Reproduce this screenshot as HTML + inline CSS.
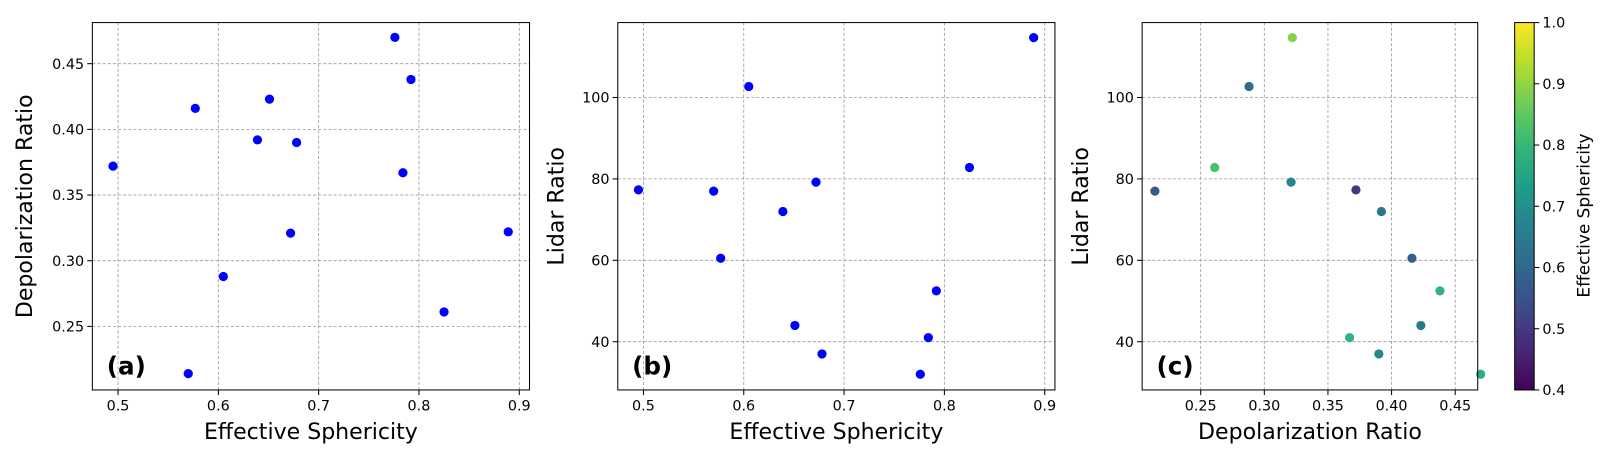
<!DOCTYPE html>
<html><head><meta charset="utf-8"><style>
body{margin:0;background:#fff;}
svg{display:block;font-family:"DejaVu Sans","Liberation Sans",sans-serif;}
</style></head><body>
<svg id="fig" width="1609" height="460"></svg>
<script>
const sphericity=[0.495,0.570,0.577,0.605,0.639,0.651,0.672,0.678,0.776,0.784,0.792,0.825,0.889];
const depolarization=[0.372,0.214,0.416,0.288,0.392,0.423,0.321,0.390,0.470,0.367,0.438,0.261,0.322];
const lidarRatio=[77.3,77.0,60.5,102.7,72.0,44.0,79.2,37.0,32.0,41.0,52.5,82.8,114.7];
const sphTicks=[0.5,0.6,0.7,0.8,0.9];
const depTicksA=[0.25,0.30,0.35,0.40,0.45];
const lidarTicks=[40,60,80,100];
const depTicksC=[0.25,0.30,0.35,0.40,0.45];
const cbTicks=[0.4,0.5,0.6,0.7,0.8,0.9,1.0];

const NS="http://www.w3.org/2000/svg";
const svgRoot=document.getElementById('fig');
const svg=document.createElementNS(NS,'g');
svg.setAttribute('transform','scale(1.0262)');
svgRoot.appendChild(svg);
function el(tag,attrs,parent){const e=document.createElementNS(NS,tag);for(const k in attrs)e.setAttribute(k,attrs[k]);(parent||svg).appendChild(e);return e;}
function lin(d0,d1,r0,r1){return v=>r0+(v-d0)*(r1-r0)/(d1-d0);}
const vir=[[68,1,84],[72,40,120],[62,74,137],[49,104,142],[38,130,142],[31,158,137],[53,183,121],[109,205,89],[180,222,44],[253,231,37]];
function viridis(t){t=Math.max(0,Math.min(1,t));const p=t*(vir.length-1),i=Math.min(vir.length-2,Math.floor(p)),f=p-i;const c=vir[i].map((v,k)=>Math.round(v+(vir[i+1][k]-v)*f));return `rgb(${c[0]},${c[1]},${c[2]})`;}

function panel(o){
  const g=el('g',{});
  
  
  const sx=lin(o.xd[0],o.xd[1],o.L,o.R), sy=lin(o.yd[0],o.yd[1],o.B,o.T);
  o.xt.forEach(t=>{const x=sx(t);
    const gl=el('line',{x1:x,x2:x,y1:o.T,y2:o.B,stroke:'#999','stroke-width':0.8,'stroke-dasharray':'3,2'},g);
    
    el('line',{x1:x,x2:x,y1:o.B,y2:o.B+5,stroke:'#000'},g);
    const tx=el('text',{x:x,y:o.B+20,'text-anchor':'middle','font-size':14},g);tx.textContent=o.xf(t);
    });
  o.yt.forEach(t=>{const y=sy(t);
    const gl=el('line',{x1:o.L,x2:o.R,y1:y,y2:y,stroke:'#999','stroke-width':0.8,'stroke-dasharray':'3,2'},g);
    
    el('line',{x1:o.L-5,x2:o.L,y1:y,y2:y,stroke:'#000'},g);
    const tx=el('text',{x:o.L-8,y:y+5,'text-anchor':'end','font-size':14},g);tx.textContent=o.yf(t);
    });
  o.xs.forEach((v,i)=>{const c=el('circle',{cx:sx(v),cy:sy(o.ys[i]),r:4.5,fill:o.col?o.col(i):'#0000ff'},g);
    });
  const fr=el('rect',{x:o.L,y:o.T,width:o.R-o.L,height:o.B-o.T,fill:'none',stroke:'#000','stroke-width':1},g);
  
  const xl=el('text',{x:(o.L+o.R)/2,y:428,'text-anchor':'middle','font-size':21.5},g);xl.textContent=o.xl;
  
  const yx=o.L-o.yo;
  const yl=el('text',{x:yx,y:(o.T+o.B)/2,'text-anchor':'middle','font-size':21.5,transform:`rotate(-90 ${yx} ${(o.T+o.B)/2})`},g);yl.textContent=o.yl;
  
  const pl=el('text',{x:o.L+14,y:365,'font-size':24,'font-weight':'bold'},g);pl.textContent=o.tag;
  
}
const f2=t=>t.toFixed(2), f1=t=>String(t), fi=t=>String(t);
panel({name:'panel-a',L:90,R:516,T:22,B:380,xd:[0.4744,0.9102],yd:[0.2016,0.4813],xt:sphTicks,yt:depTicksA,xf:f1,yf:f2,xs:sphericity,ys:depolarization,xl:'Effective Sphericity',yl:'Depolarization Ratio',yo:59,tag:'(a)'});
panel({name:'panel-b',L:602,R:1028,T:22,B:380,xd:[0.4744,0.9102],yd:[28.15,118.4],xt:sphTicks,yt:lidarTicks,xf:f1,yf:fi,xs:sphericity,ys:lidarRatio,xl:'Effective Sphericity',yl:'Lidar Ratio',yo:53,tag:'(b)'});
panel({name:'panel-c',L:1113,R:1440,T:22,B:380,xd:[0.204,0.4677],yd:[28.15,118.4],xt:depTicksC,yt:lidarTicks,xf:f2,yf:fi,xs:depolarization,ys:lidarRatio,col:i=>viridis((sphericity[i]-0.4)/0.6),xl:'Depolarization Ratio',yl:'Lidar Ratio',yo:53,tag:'(c)'});

// colorbar
const cb=el('g',{});


const defs=el('defs',{},cb);
const lg=el('linearGradient',{id:'vg',x1:0,y1:1,x2:0,y2:0},defs);
for(let i=0;i<=20;i++)el('stop',{offset:i/20,'stop-color':viridis(i/20)},lg);
el('rect',{x:1476,y:22,width:19,height:358,fill:'url(#vg)',stroke:'#000','stroke-width':1},cb);
const cy=lin(0.4,1.0,380,22);
cbTicks.forEach(t=>{const y=cy(t);el('line',{x1:1495,x2:1500,y1:y,y2:y,stroke:'#000'},cb);
  const tx=el('text',{x:1503,y:y+5,'font-size':14},cb);tx.textContent=t.toFixed(1);
  });
const cl=el('text',{x:1549,y:210,'text-anchor':'middle','font-size':16.5,transform:'rotate(-90 1549 210)'},cb);cl.textContent='Effective Sphericity';

</script>
</body></html>
